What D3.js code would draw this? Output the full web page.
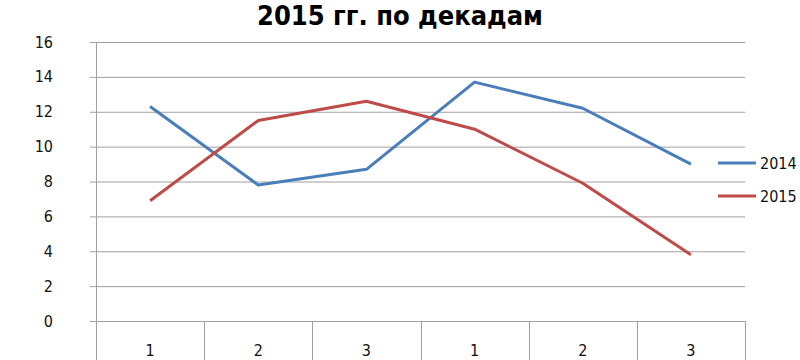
<!DOCTYPE html>
<html>
<head>
<meta charset="utf-8">
<script src="https://cdn.jsdelivr.net/npm/d3@7"></script>
<style>
  body { margin: 0; background: #fff; }
  svg { display: block; font-family: "Liberation Sans Narrow", "DejaVu Sans Condensed", "Open Sans", sans-serif; }
</style>
</head>
<body>
<svg id="chart"></svg>
<script>
'use strict';

var categories = ["1", "2", "3", "1", "2", "3"];
var series_names = ["2014", "2015"];
var values_2014 = [12.3, 7.8, 8.7, 13.7, 12.2, 9.0];
var values_2015 = [6.9, 11.5, 12.6, 11.0, 7.9, 3.8];
var y_ticks = [0, 2, 4, 6, 8, 10, 12, 14, 16];
var colors = ["#4a7ebb", "#be4b48"];

function show_chart() {
    var width = 800,
        height = 360,
        left = 96,
        right = 745,
        top = 42,
        bottom = 321;

    var svg = d3.select("#chart")
                .attr("width", width)
                .attr("height", height);

    var x = d3.scaleBand()
                .domain(d3.range(categories.length))
                .range([left, right]);

    var y = d3.scaleLinear()
                .domain([0, 16])
                .range([bottom, top]);

    // gridlines
    svg.append("g")
        .selectAll("line")
        .data(y_ticks)
        .enter().append("line")
            .attr("x1", left - 6)
            .attr("x2", right)
            .attr("y1", function(d) { return y(d) + 0.5; })
            .attr("y2", function(d) { return y(d) + 0.5; })
            .attr("stroke", "#a0a0a0")
            .attr("stroke-width", 1);

    // y axis line
    svg.append("line")
        .attr("x1", left + 0.5).attr("x2", left + 0.5)
        .attr("y1", top).attr("y2", bottom)
        .attr("stroke", "#a0a0a0");

    // y tick labels
    svg.append("g")
        .selectAll("text")
        .data(y_ticks)
        .enter().append("text")
            .attr("x", left - 43)
            .attr("y", function(d) { return y(d); })
            .attr("dy", "0.35em")
            .attr("text-anchor", "end")
            .style("font-size", "16px")
            .style("fill", "#111")
            .text(function(d) { return d; });

    // category dividers (table-like x axis)
    var bounds = d3.range(categories.length + 1).map(function(i) {
        return i < categories.length ? x(i) : x(i - 1) + x.bandwidth();
    });
    svg.append("g")
        .selectAll("line")
        .data(bounds)
        .enter().append("line")
            .attr("x1", function(d) { return Math.round(d) + 0.5; })
            .attr("x2", function(d) { return Math.round(d) + 0.5; })
            .attr("y1", bottom)
            .attr("y2", height)
            .attr("stroke", "#a0a0a0");

    svg.append("g")
        .selectAll("text")
        .data(categories)
        .enter().append("text")
            .attr("x", function(d, i) { return x(i) + x.bandwidth() / 2; })
            .attr("y", 350)
            .attr("dy", "0.35em")
            .attr("text-anchor", "middle")
            .style("font-size", "16px")
            .style("fill", "#111")
            .text(function(d) { return d; });

    // lines
    var line = d3.line()
                .x(function(d, i) { return x(i) + x.bandwidth() / 2; })
                .y(function(d) { return y(d); });

    [values_2014, values_2015].forEach(function(vals, k) {
        svg.append("path")
            .datum(vals)
            .attr("d", line)
            .attr("fill", "none")
            .attr("stroke", colors[k])
            .attr("stroke-width", 3)
            .attr("stroke-linejoin", "round");
    });

    // legend
    var legend = svg.append("g")
                    .selectAll("g")
                    .data(series_names)
                .enter().append("g")
                    .attr("transform", function(d, i) { return "translate(718," + (163 + i * 33) + ")"; });

    legend.append("line")
        .attr("x1", 0).attr("x2", 38)
        .attr("stroke", function(d, i) { return colors[i]; })
        .attr("stroke-width", 3);

    legend.append("text")
        .attr("x", 42)
        .attr("dy", "0.35em")
        .style("font-size", "16px")
        .style("fill", "#111")
        .text(function(d) { return d; });

    // title
    svg.append("text")
        .attr("x", 400)
        .attr("y", 16)
        .attr("dy", "0.35em")
        .attr("text-anchor", "middle")
        .style("font-size", "27px")
        .style("font-weight", "bold")
        .style("fill", "#000")
        .text("2015 гг. по декадам");
}

show_chart();
</script>
</body>
</html>
